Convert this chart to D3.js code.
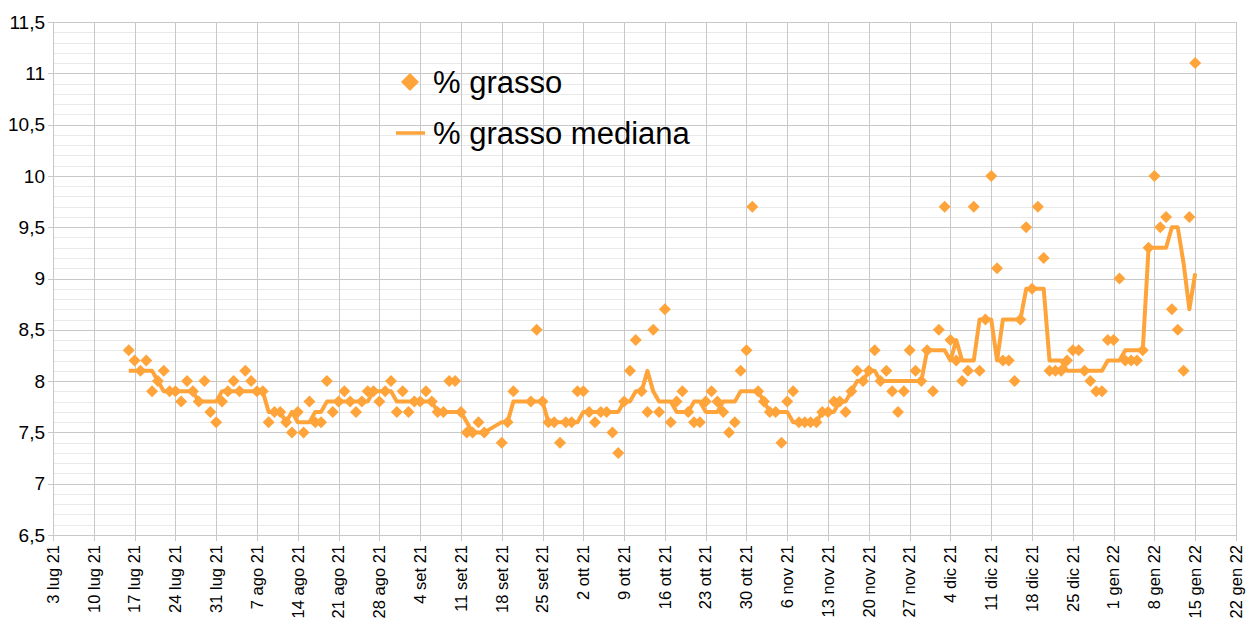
<!DOCTYPE html>
<html><head><meta charset="utf-8">
<script src="https://cdn.jsdelivr.net/npm/d3@7"></script>
<style>
body{margin:0;background:#fff}
svg{display:block}
text{font-family:"Liberation Sans",Arial,sans-serif;fill:#000}
</style>
</head><body>
<svg id="chart" width="1252" height="624"></svg>
<script>
// ---- data ----
const dates = [
"2021-07-16","2021-07-17","2021-07-18","2021-07-19","2021-07-20","2021-07-21","2021-07-22","2021-07-23","2021-07-24","2021-07-25","2021-07-26","2021-07-27","2021-07-28","2021-07-29","2021-07-30","2021-07-31",
"2021-08-01","2021-08-02","2021-08-03","2021-08-04","2021-08-05","2021-08-06","2021-08-07","2021-08-08","2021-08-09","2021-08-10","2021-08-11","2021-08-12","2021-08-13","2021-08-14","2021-08-15","2021-08-16","2021-08-17","2021-08-18","2021-08-19","2021-08-20","2021-08-21","2021-08-22","2021-08-23","2021-08-24","2021-08-25","2021-08-26","2021-08-27","2021-08-28","2021-08-29","2021-08-30","2021-08-31",
"2021-09-01","2021-09-02","2021-09-03","2021-09-04","2021-09-05","2021-09-06","2021-09-07","2021-09-08","2021-09-09","2021-09-10","2021-09-11","2021-09-12","2021-09-13","2021-09-14","2021-09-15","2021-09-18","2021-09-19","2021-09-20","2021-09-23","2021-09-24","2021-09-25","2021-09-26","2021-09-27","2021-09-28","2021-09-29","2021-09-30",
"2021-10-01","2021-10-02","2021-10-03","2021-10-04","2021-10-05","2021-10-06","2021-10-07","2021-10-08","2021-10-09","2021-10-10","2021-10-11","2021-10-12","2021-10-13","2021-10-14","2021-10-15","2021-10-16","2021-10-17","2021-10-18","2021-10-19","2021-10-20","2021-10-21","2021-10-22","2021-10-23","2021-10-24","2021-10-25","2021-10-26","2021-10-27","2021-10-28","2021-10-29","2021-10-30","2021-10-31",
"2021-11-01","2021-11-02","2021-11-03","2021-11-04","2021-11-05","2021-11-06","2021-11-07","2021-11-08","2021-11-09","2021-11-10","2021-11-11","2021-11-12","2021-11-13","2021-11-14","2021-11-15","2021-11-16","2021-11-17","2021-11-18","2021-11-19","2021-11-20","2021-11-21","2021-11-22","2021-11-23","2021-11-24","2021-11-25","2021-11-26","2021-11-27","2021-11-28","2021-11-29","2021-11-30",
"2021-12-01","2021-12-02","2021-12-03","2021-12-04","2021-12-05","2021-12-06","2021-12-07","2021-12-08","2021-12-09","2021-12-10","2021-12-11","2021-12-12","2021-12-13","2021-12-14","2021-12-15","2021-12-16","2021-12-17","2021-12-18","2021-12-19","2021-12-20","2021-12-21","2021-12-22","2021-12-23","2021-12-24","2021-12-25","2021-12-26","2021-12-27","2021-12-28","2021-12-29","2021-12-30","2021-12-31",
"2022-01-01","2022-01-02","2022-01-03","2022-01-04","2022-01-05","2022-01-06","2022-01-07","2022-01-08","2022-01-09","2022-01-10","2022-01-11","2022-01-12","2022-01-13","2022-01-14","2022-01-15"
];
const grasso = [
8.3,8.2,8.1,8.2,7.9,8.0,8.1,7.9,7.9,7.8,8.0,7.9,7.8,8.0,7.7,7.6,
7.8,7.9,8.0,7.9,8.1,8.0,7.9,7.9,7.6,7.7,7.7,7.6,7.5,7.7,7.5,7.8,7.6,7.6,8.0,7.7,7.8,7.9,7.8,7.7,7.8,7.9,7.9,7.8,7.9,8.0,7.7,
7.9,7.7,7.8,7.8,7.9,7.8,7.7,7.7,8.0,8.0,7.7,7.5,7.5,7.6,7.5,7.4,7.6,7.9,7.8,8.5,7.8,7.6,7.6,7.4,7.6,7.6,
7.9,7.9,7.7,7.6,7.7,7.7,7.5,7.3,7.8,8.1,8.4,7.9,7.7,8.5,7.7,8.7,7.6,7.8,7.9,7.7,7.6,7.6,7.8,7.9,7.8,7.7,7.5,7.6,8.1,8.3,9.7,
7.9,7.8,7.7,7.7,7.4,7.8,7.9,7.6,7.6,7.6,7.6,7.7,7.7,7.8,7.8,7.7,7.9,8.1,8.0,8.1,8.3,8.0,8.1,7.9,7.7,7.9,8.3,8.1,8.0,8.3,
7.9,8.5,9.7,8.4,8.2,8.0,8.1,9.7,8.1,8.6,10.0,9.1,8.2,8.2,8.0,8.6,9.5,8.9,9.7,9.2,8.1,8.1,8.1,8.2,8.3,8.3,8.1,8.0,7.9,7.9,8.4,
8.4,9.0,8.2,8.2,8.2,8.3,9.3,10.0,9.5,9.6,8.7,8.5,8.1,9.6,11.1
];
const grassoMediana = [
8.1,8.1,8.1,8.1,8.1,8.0,7.9,7.9,7.9,7.9,7.9,7.9,7.8,7.8,7.8,7.8,
7.9,7.9,7.9,7.9,7.9,7.9,7.9,7.9,7.7,7.7,7.7,7.6,7.7,7.6,7.6,7.6,7.7,7.7,7.8,7.8,7.8,7.8,7.8,7.8,7.8,7.8,7.9,7.9,7.9,7.9,7.8,
7.8,7.8,7.8,7.8,7.8,7.8,7.7,7.7,7.7,7.7,7.7,7.6,7.5,7.5,7.5,7.6,7.6,7.8,7.8,7.8,7.8,7.6,7.6,7.6,7.6,7.6,
7.6,7.7,7.7,7.7,7.7,7.7,7.7,7.7,7.8,7.8,7.9,7.9,8.1,7.9,7.8,7.8,7.8,7.7,7.7,7.7,7.8,7.8,7.7,7.7,7.7,7.8,7.8,7.8,7.9,7.9,7.9,
7.9,7.8,7.7,7.7,7.7,7.7,7.6,7.6,7.6,7.6,7.6,7.7,7.7,7.7,7.8,7.8,7.9,8.0,8.0,8.1,8.1,8.0,8.0,8.0,8.0,8.0,8.0,8.0,8.0,8.3,
8.3,8.3,8.3,8.2,8.4,8.2,8.2,8.2,8.6,8.6,8.6,8.2,8.6,8.6,8.6,8.6,8.9,8.9,8.9,8.9,8.2,8.2,8.2,8.1,8.1,8.1,8.1,8.1,8.1,8.1,8.2,
8.2,8.2,8.3,8.3,8.3,8.3,9.3,9.3,9.3,9.3,9.5,9.5,9.15,8.7,9.05
];
const yTicks = [6.5,7,7.5,8,8.5,9,9.5,10,10.5,11,11.5];
const xTickLabels = ["3 lug 21","10 lug 21","17 lug 21","24 lug 21","31 lug 21","7 ago 21","14 ago 21","21 ago 21","28 ago 21","4 set 21","11 set 21","18 set 21","25 set 21","2 ott 21","9 ott 21","16 ott 21","23 ott 21","30 ott 21","6 nov 21","13 nov 21","20 nov 21","27 nov 21","4 dic 21","11 dic 21","18 dic 21","25 dic 21","1 gen 22","8 gen 22","15 gen 22","22 gen 22"];
const seriesNames = ["% grasso","% grasso mediana"];
const xDomain = ["2021-07-03","2022-01-22"];

// ---- layout ----
const W = 1252, H = 624;
const M = {left:53, right:16, top:22, bottom:89};
const color = "#ffa43a";
const parse = d3.timeParse("%Y-%m-%d");
const svg = d3.select("#chart");

const x = d3.scaleTime().domain(xDomain.map(parse)).range([M.left, W - M.right]);
const y = d3.scaleLinear().domain([6.5, 11.5]).range([H - M.bottom, M.top]);

const tickDates = xTickLabels.map((_, i) => d3.timeDay.offset(parse(xDomain[0]), 7 * i));
const data = dates.map((d, i) => ({date: parse(d), v: grasso[i], m: grassoMediana[i]}));

// minor horizontal grid
const minor = d3.range(65, 116).map(v => v / 10).filter(v => Math.abs(v*2 - Math.round(v*2)) > 1e-6);
svg.append("g").selectAll("line").data(minor).join("line")
  .attr("x1", M.left).attr("x2", W - M.right)
  .attr("y1", d => Math.round(y(d)) + 0.5).attr("y2", d => Math.round(y(d)) + 0.5)
  .attr("stroke", "#e9e9e9").attr("stroke-width", 1);

// major horizontal grid
svg.append("g").selectAll("line").data(yTicks).join("line")
  .attr("x1", M.left - 5).attr("x2", W - M.right)
  .attr("y1", d => Math.round(y(d)) + 0.5).attr("y2", d => Math.round(y(d)) + 0.5)
  .attr("stroke", "#c8c8c8").attr("stroke-width", 1);

// vertical grid
svg.append("g").selectAll("line").data(tickDates).join("line")
  .attr("x1", d => Math.round(x(d)) + 0.5).attr("x2", d => Math.round(x(d)) + 0.5)
  .attr("y1", M.top).attr("y2", H - M.bottom + 6)
  .attr("stroke", "#c8c8c8").attr("stroke-width", 1);

// y axis labels
const fmt = v => String(v).replace(".", ",");
svg.append("g").selectAll("text").data(yTicks).join("text")
  .attr("x", M.left - 8).attr("y", d => y(d)).attr("dy", "0.35em")
  .attr("text-anchor", "end").attr("font-size", 19).text(fmt);

// x axis labels
svg.append("g").selectAll("text").data(tickDates).join("text")
  .attr("transform", d => `translate(${x(d)},${H - M.bottom + 10}) rotate(-90)`)
  .attr("dy", "0.35em").attr("text-anchor", "end").attr("font-size", 16.5)
  .text((d, i) => xTickLabels[i]);

// median line
svg.append("path").datum(data)
  .attr("fill", "none").attr("stroke", color).attr("stroke-width", 4)
  .attr("stroke-linejoin", "round")
  .attr("d", d3.line().x(d => x(d.date)).y(d => y(d.m)));

// points
const diamond = r => `M0,${-r}L${r},0L0,${r}L${-r},0Z`;
svg.append("g").selectAll("path").data(data).join("path")
  .attr("transform", d => `translate(${x(d.date)},${y(d.v)})`)
  .attr("d", diamond(6)).attr("fill", color);

// legend
const lg = svg.append("g");
lg.append("path").attr("transform", "translate(410,82)").attr("d", diamond(9)).attr("fill", color);
lg.append("text").attr("x", 433).attr("y", 82).attr("dy", "0.35em").attr("font-size", 31).text(seriesNames[0]);
lg.append("line").attr("x1", 396).attr("x2", 425).attr("y1", 133).attr("y2", 133)
  .attr("stroke", color).attr("stroke-width", 3.5);
lg.append("text").attr("x", 433).attr("y", 133).attr("dy", "0.35em").attr("font-size", 31).text(seriesNames[1]);
</script>
</body></html>
